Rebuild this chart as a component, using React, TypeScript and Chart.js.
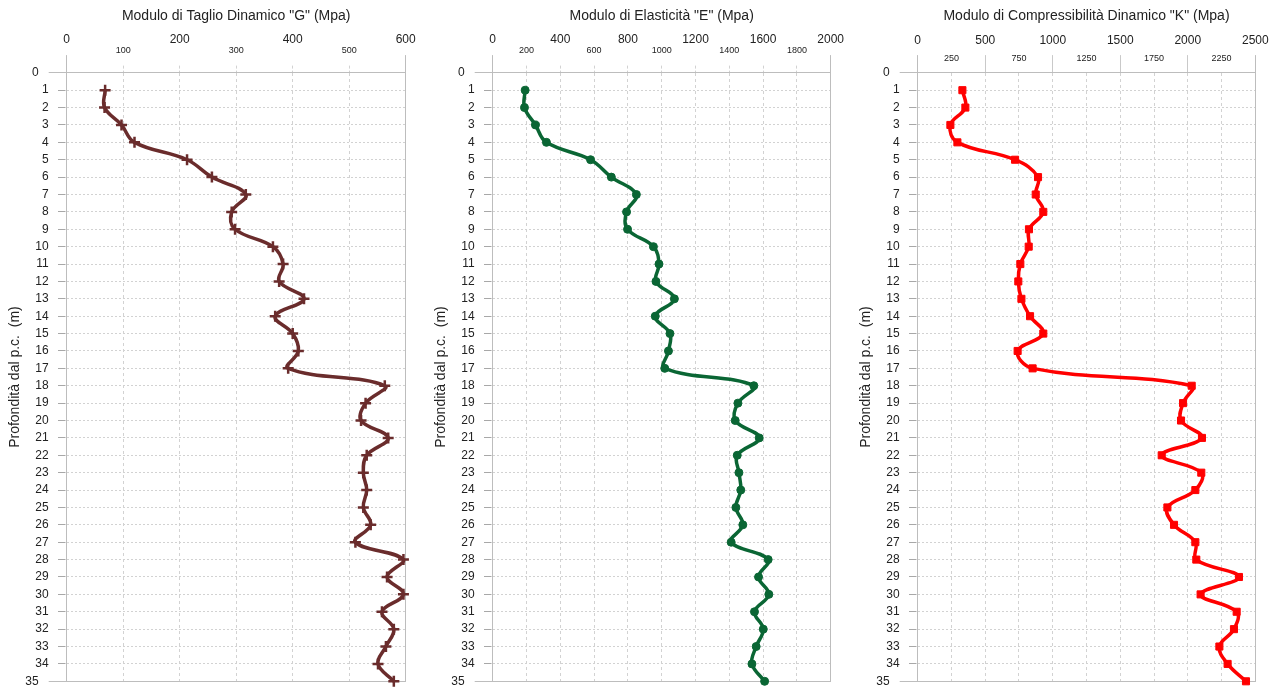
import React, { useEffect, useRef } from 'react';
import { Chart, registerables } from 'chart.js';

Chart.register(...registerables);

// ---- data ----
const depths = [1, 2, 3, 4, 5, 6, 7, 8, 9, 10, 11, 12, 13, 14, 15, 16, 17, 18, 19, 20, 21, 22, 23, 24, 25, 26, 27, 28, 29, 30, 31, 32, 33, 34, 35];
const gValues = [68, 67, 97, 120, 213, 257, 317, 292, 298, 365, 383, 376, 420, 369, 400, 410, 392, 563, 529, 521, 569, 531, 525, 531, 525, 538, 511, 596, 567, 596, 558, 579, 565, 551, 579];
const eValues = [192, 188, 253, 318, 579, 702, 850, 792, 798, 951, 984, 966, 1075, 962, 1049, 1040, 1018, 1545, 1451, 1435, 1577, 1447, 1457, 1468, 1439, 1480, 1411, 1630, 1573, 1634, 1549, 1601, 1559, 1534, 1609];
const kValues = [331, 353, 242, 294, 721, 891, 874, 930, 824, 822, 760, 745, 768, 832, 930, 740, 851, 2029, 1965, 1950, 2105, 1807, 2100, 2056, 1849, 1898, 2056, 2063, 2379, 2095, 2362, 2342, 2234, 2295, 2431];

const titles = ['Modulo di Taglio Dinamico "G" (Mpa)', 'Modulo di Elasticità "E" (Mpa)', 'Modulo di Compressibilità Dinamico "K" (Mpa)'];
const yTitle = 'Profondità dal p.c.  (m)';

const gMajorTicks = [0, 200, 400, 600];
const eMajorTicks = [0, 400, 800, 1200, 1600, 2000];
const kMajorTicks = [0, 500, 1000, 1500, 2000, 2500];

const depthMin = 0;
const depthMax = 35;

// ---- style ----
const FONT = '"Liberation Sans", Arial, Helvetica, sans-serif';
const TEXT = '#222222';
const AXIS = '#bdbdbd';
const GRID = '#d2d2d2';
const TICK = '#a8a8a8';

type PanelCfg = {
  title: string;
  values: number[];
  color: string;
  pointStyle: string;
  radius: number;
  pointBorder: number;
  max: number;
  step: number;
  major: number[];
  left: number;
  width: number;
  plotW: number;
  tickPad: number;
  majorLH: number;
  minorLH: number;
  interiorTicks: boolean;
};

const panels: PanelCfg[] = [
  { title: titles[0], values: gValues, color: '#6a2c2c', pointStyle: 'cross', radius: 5.5, pointBorder: 2.5, max: 600, step: 100, major: gMajorTicks, left: 0, width: 426, plotW: 339, tickPad: 0, majorLH: 10 / 12, minorLH: 10 / 9, interiorTicks: true },
  { title: titles[1], values: eValues, color: '#0a6634', pointStyle: 'circle', radius: 4, pointBorder: 1, max: 2000, step: 200, major: eMajorTicks, left: 426, width: 425, plotW: 338, tickPad: 0, majorLH: 10 / 12, minorLH: 10 / 9, interiorTicks: true },
  { title: titles[2], values: kValues, color: '#ff0000', pointStyle: 'rect', radius: 5, pointBorder: 1, max: 2500, step: 250, major: kMajorTicks, left: 851, width: 432, plotW: 337.6, tickPad: -9, majorLH: 15.5 / 12, minorLH: 11.4 / 9, interiorTicks: false },
];

const PLOT_LEFT = 66.7;
const H = 689;

function Panel({ cfg }: { cfg: PanelCfg }) {
  const ref = useRef<HTMLCanvasElement | null>(null);
  useEffect(() => {
    if (!ref.current) return;
    const isMajor = (v: number) => cfg.major.includes(v);
    const isEdge = (v: number) => v === 0 || v === cfg.max;
    const chart = new Chart(ref.current, {
      type: 'line',
      data: {
        datasets: [
          {
            data: depths.map((d, i) => ({ x: cfg.values[i], y: d })),
            borderColor: cfg.color,
            backgroundColor: cfg.color,
            borderWidth: 3.5,
            tension: 0.4,
            pointStyle: cfg.pointStyle as any,
            pointRadius: cfg.radius,
            pointBorderWidth: cfg.pointBorder,
            pointBorderColor: cfg.color,
            pointBackgroundColor: cfg.color,
            clip: false as any,
            xAxisID: 'x',
            yAxisID: 'y',
          },
        ],
      },
      options: {
        animation: false,
        responsive: false,
        devicePixelRatio: 1,
        layout: {
          autoPadding: false,
          padding: { left: 0, top: 0, right: cfg.width - PLOT_LEFT - cfg.plotW, bottom: H - 681.3 },
        } as any,
        plugins: {
          legend: { display: false },
          tooltip: { enabled: false },
          title: {
            display: true,
            text: cfg.title,
            fullSize: false,
            color: TEXT,
            font: { family: FONT, size: 14, weight: 'normal' as any, lineHeight: 1.2 },
            padding: { top: 8, bottom: 8 },
          },
        },
        scales: {
          x: {
            type: 'linear',
            position: 'top',
            min: 0,
            max: cfg.max,
            afterFit: (s: any) => {
              s.height = 40;
            },
            ticks: {
              stepSize: cfg.step,
              autoSkip: false,
              maxRotation: 0,
              minRotation: 0,
              padding: cfg.tickPad,
              color: TEXT,
              font: (ctx: any) =>
                ctx.tick && isMajor(ctx.tick.value)
                  ? { family: FONT, size: 12, lineHeight: cfg.majorLH }
                  : { family: FONT, size: 9, lineHeight: cfg.minorLH },
              callback: (v: any) => (isMajor(Number(v)) ? [String(v), ''] : String(v)),
            },
            grid: {
              color: GRID,
              lineWidth: 1,
              tickLength: 17.7,
              tickWidth: 1,
              tickColor: (ctx: any) => {
                if (!ctx.tick) return AXIS;
                const v = ctx.tick.value;
                if (isEdge(v)) return AXIS;
                if (cfg.interiorTicks) return GRID;
                return isMajor(v) ? '#c9c9c9' : 'rgba(0,0,0,0)';
              },
              tickBorderDash: (ctx: any) => {
                if (!ctx.tick) return [];
                const v = ctx.tick.value;
                if (isEdge(v)) return [];
                return cfg.interiorTicks ? [0, 10.5, 3, 2, 3, 100] : [];
              },
            },
            border: { display: true, color: AXIS, width: 1, dash: [3, 3] },
          },
          y: {
            type: 'linear',
            position: 'left',
            reverse: true,
            min: depthMin,
            max: depthMax,
            afterFit: (s: any) => {
              s.width = PLOT_LEFT;
            },
            ticks: {
              stepSize: 1,
              autoSkip: false,
              maxTicksLimit: 100,
              padding: 0,
              color: TEXT,
              font: { family: FONT, size: 12 },
              callback: (v: any) => (Number(v) === depthMin || Number(v) === depthMax ? `${v}   ` : `${v}`),
            },
            grid: {
              color: GRID,
              lineWidth: 1,
              tickLength: 18,
              tickColor: (ctx: any) => (ctx.tick && (ctx.tick.value === depthMin || ctx.tick.value === depthMax) ? AXIS : TICK),
              tickBorderDash: (ctx: any) =>
                ctx.tick && (ctx.tick.value === depthMin || ctx.tick.value === depthMax) ? [] : [0, 9.3, 7.5, 100],
            },
            border: { display: true, color: AXIS, width: 1, dash: [2, 2] },
            title: {
              display: true,
              text: yTitle,
              color: TEXT,
              font: { family: FONT, size: 14, lineHeight: 1.2 },
              padding: { top: 7, bottom: 0 },
            },
          },
          x2: {
            type: 'linear',
            position: 'bottom',
            min: 0,
            max: cfg.max,
            afterFit: (s: any) => {
              s.height = 0;
            },
            ticks: { display: false },
            grid: { display: false, drawTicks: false },
            border: { display: true, color: AXIS, width: 1 },
          },
          y2: {
            type: 'linear',
            position: 'right',
            reverse: true,
            min: depthMin,
            max: depthMax,
            afterFit: (s: any) => {
              s.width = 0;
            },
            ticks: { display: false },
            grid: { display: false, drawTicks: false },
            border: { display: true, color: AXIS, width: 1 },
          },
        } as any,
      },
    });
    return () => chart.destroy();
  }, [cfg]);
  return (
    <canvas
      ref={ref}
      width={cfg.width}
      height={H}
      style={{ position: 'absolute', left: cfg.left, top: 0, width: cfg.width, height: H }}
    />
  );
}

export default function App() {
  return (
    <div style={{ position: 'fixed', left: 0, top: 0, width: 1283, height: H, background: '#ffffff', overflow: 'hidden' }}>
      {panels.map((p, i) => (
        <Panel key={i} cfg={p} />
      ))}
    </div>
  );
}
